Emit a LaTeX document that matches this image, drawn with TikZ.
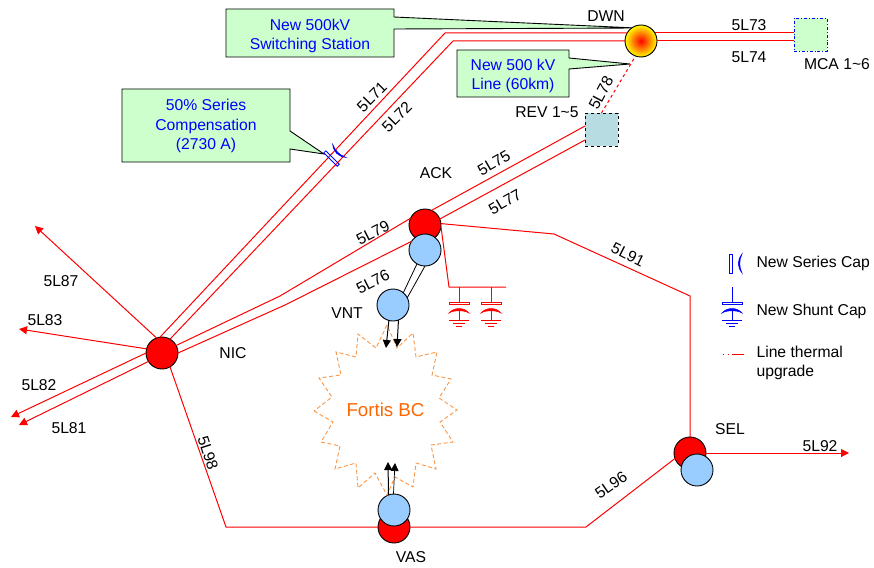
\documentclass[tikz,border=0pt]{standalone}
\usepackage{fontspec}
\setmainfont{Liberation Sans}
\usetikzlibrary{arrows.meta}
\definecolor{calloutgreen}{RGB}{204,255,204}
\definecolor{busred}{RGB}{255,0,0}
\definecolor{xfmrblue}{RGB}{153,204,255}
\definecolor{revblue}{RGB}{183,221,226}
\definecolor{fortis}{RGB}{255,102,0}
\definecolor{fortisline}{RGB}{250,150,70}

\begin{document}
\begin{tikzpicture}[x=1pt, y=-1pt,
  every node/.style={font=\fontsize{15.7}{19.5}\selectfont},
  line/.style={draw=busred, line width=1pt},
  tip/.style={line, -{Triangle[length=8pt,width=8pt]}},
  flow/.style={black, line width=1pt, -{Triangle[length=8pt,width=8pt]}},
  tie/.style={black, line width=0.8pt},
  bus/.style={circle, draw=black, line width=0.9pt, minimum size=32pt, inner sep=0pt, outer sep=0pt, fill=busred},
  xfmr/.style={bus, fill=xfmrblue},
  site/.style={rectangle, minimum size=33pt, inner sep=0pt, outer sep=0pt, line width=0.8pt},
  note/.style={draw=black, line width=0.9pt, fill=calloutgreen},
  notetext/.style={text=blue, align=center},
  shuntcap/.pic={
    \draw[line width=0.7pt] (0,0) -- (0,15);
    \draw[line width=0.7pt] (-10,15) rectangle (10,17);
    \filldraw[line width=0.5pt] (-10,26) .. controls (-5,20) and (5,20) .. (10,26) .. controls (5,23) and (-5,23) .. cycle;
    \draw[line width=0.7pt] (0,22) -- (0,33) (-10,33) -- (10,33) (-6,36) -- (6,36) (-3,39) -- (3,39);
  },
  seriescap/.pic={
    \draw[line width=0.8pt] (-1.4,-9.5) rectangle (1.4,9.5);
    \filldraw[line width=0.5pt] (11,-9.5) .. controls (6,-3) and (6,3) .. (11,9.5) .. controls (8,3) and (8,-3) .. cycle;
  }]
  \useasboundingbox (0,0) rectangle (874,567);

  % callouts
  \draw[note] (226,9) -- (394,9) -- (394,17) -- (636,28) -- (394,29) -- (394,57) -- (226,57) -- cycle;
  \node[notetext] (noteswitch) at (310,36) {New 500kV\\Switching Station};
  \draw[note] (457,50) -- (569,50) -- (569,58) -- (630,64) -- (569,69) -- (569,97) -- (457,97) -- cycle;
  \node[notetext] (noteline) at (513,76) {New 500 kV\\Line (60km)};
  \draw[note] (122,89) -- (290,89) -- (290,131) -- (324,154) -- (290,149) -- (290,162) -- (122,162) -- cycle;
  \node[notetext] (noteseries) at (206,126) {50\% Series\\Compensation\\(2730 A)};

  % substations
  \node[bus] (nic) at (162,353) {};
  \node[bus] (ack) at (425,225) {};
  \node[xfmr] (ackt) at (425,250) {};
  \node[xfmr] (vnt) at (393,305) {};
  \node[bus, shading=radial, inner color=red, outer color=yellow] (dwn) at (641,41) {};
  \node[bus] (sel) at (690,453) {};
  \node[xfmr] (selt) at (697,470) {};
  \node[bus] (vas) at (394,527) {};
  \node[xfmr] (vast) at (394,510) {};
  \node[site, draw=blue, dash dot, fill=calloutgreen] (mca) at (810.5,35) {};
  \node[site, draw=black, dashed, fill=revblue] (rev) at (601.5,129.5) {};

  % bend points and free ends
  \coordinate (b71) at (445,33);
  \coordinate (b72) at (453,41);
  \coordinate (b79) at (280,296);
  \coordinate (b76) at (285,305);
  \coordinate (b98) at (226,527);
  \coordinate (b96) at (586,527);
  \coordinate (b91a) at (554,234);
  \coordinate (b91b) at (690,296);
  \coordinate (e87) at (35,226);
  \coordinate (e83) at (19,329);
  \coordinate (e82) at (11,417);
  \coordinate (e81) at (19,425);
  \coordinate (e92) at (849,453);
  \coordinate (capbend) at (449,287);
  \coordinate (capend) at (506,287);

  % lines
  \draw[line] (nic.97) -- (b71) -- (dwn.150);
  \draw[line] (nic.60) -- (b72) -- (dwn.180);
  \draw[line] (dwn.30) -- (mca.west |- dwn.30);
  \draw[line] (dwn.0) -- (mca.west |- dwn.0);
  \draw[line, dashed] (rev.north) -- (dwn.-110);
  \draw[line] (ack.66) -- ([yshift=3.5pt]rev.west);
  \draw[line] (ack.22) -- ([yshift=-10.5pt]rev.west);
  \draw[line] (nic.28) -- (b79) -- (ack.155);
  \draw[line] (nic.0) -- (b76) -- (ackt.147);
  \draw[tip] (nic.110) -- (e87);
  \draw[tip] (nic.165) -- (e83);
  \draw[tip] (nic.180) -- (e82);
  \draw[tip] (nic.212) -- (e81);
  \draw[line] (nic.-60) -- (b98) -- (vas.west);
  \draw[line] (vas.east) -- (b96) -- (sel.200);
  \draw[line] (ack.5) -- (b91a) -- (b91b) -- (sel.north);
  \draw[tip] (sel.0) -- (e92);
  \draw[line] (ack.-5) -- (capbend) -- (capend);
  \draw[tie] (ackt.-120) -- (vnt.50);
  \draw[tie] (ackt.-90) -- (vnt.27);

  % Fortis BC
  \draw[fortisline, line width=0.9pt, dash pattern=on 4pt off 2.5pt]
    (314,411) -- (333,422) -- (321,442) -- (340,446) -- (335,469) -- (356,463) -- (358,488) -- (375,473)
    -- (387,495) -- (395,477) -- (413,487) -- (416,463) -- (436,469) -- (431,445) -- (453,442) -- (440,422)
    -- (457,410) -- (439,398) -- (451,379) -- (432,375) -- (437,352) -- (416,357) -- (413,333) -- (397,348)
    -- (387,325) -- (376,348) -- (358,334) -- (356,357) -- (336,352) -- (341,375) -- (319,378) -- (332,397) -- cycle;
  \node[text=fortis, font=\fontsize{18.7}{20}\selectfont] (fortisbc) at (385.5,410) {Fortis BC};

  % ties into Fortis BC
  \coordinate (vnta) at (386,348);
  \coordinate (vntb) at (397,347);
  \coordinate (vasa) at (388,462);
  \coordinate (vasb) at (395,463);
  \draw[flow] (vnt.-105) -- (vnta);
  \draw[flow] (vnt.-70) -- (vntb);
  \draw[flow] (vast.110) -- (vasa);
  \draw[flow, line width=0.7pt] (vast.92) -- (vasb);

  % capacitors
  \pic[busred] at (459,287) {shuntcap};
  \pic[busred] at (491,287) {shuntcap};
  \pic[blue, rotate=45] at (331.5,158.5) {seriescap};

  % names
  \node (tdwn) at (606,16.5) {DWN};
  \node (trev) at (547,112) {REV 1\textasciitilde5};
  \node (tmca) at (837,64) {MCA 1\textasciitilde6};
  \node (tack) at (436,173.5) {ACK};
  \node (tvnt) at (347,313.5) {VNT};
  \node (tnic) at (233,353) {NIC};
  \node (tsel) at (730,429) {SEL};
  \node (tvas) at (411,557) {VAS};

  % line labels
  \node (l73) at (749,25) {5L73};
  \node (l74) at (749,57) {5L74};
  \node[rotate=45] (l71) at (372,97) {5L71};
  \node[rotate=45] (l72) at (397,117) {5L72};
  \node[rotate=62] (l78) at (601,93) {5L78};
  \node[rotate=30] (l75) at (494,163) {5L75};
  \node[rotate=30] (l77) at (505,202) {5L77};
  \node[rotate=27] (l79) at (373,233) {5L79};
  \node[rotate=27] (l76) at (373,282) {5L76};
  \node[rotate=-27] (l91) at (628,255) {5L91};
  \node[rotate=-72] (l98) at (208,453) {5L98};
  \node[rotate=35] (l96) at (611,485) {5L96};
  \node (l87) at (61,281) {5L87};
  \node (l83) at (45,320) {5L83};
  \node (l82) at (39,385) {5L82};
  \node (l81) at (69,428) {5L81};
  \node (l92) at (820,446) {5L92};

  % legend
  \pic[blue] at (731,263.5) {seriescap};
  \pic[blue] at (732,287) {shuntcap};
  \coordinate (lega) at (723,354);
  \coordinate (legb) at (745,354);
  \draw[line, dash pattern=on 1pt off 3.5pt on 1pt off 3.5pt on 12pt] (lega) -- (legb);
  \node[anchor=west] (legseries) at (753,263) {New Series Cap};
  \node[anchor=west] (legshunt) at (753,311) {New Shunt Cap};
  \node[anchor=west, align=left] (legline) at (753,363) {Line thermal\\upgrade};
\end{tikzpicture}
\end{document}
